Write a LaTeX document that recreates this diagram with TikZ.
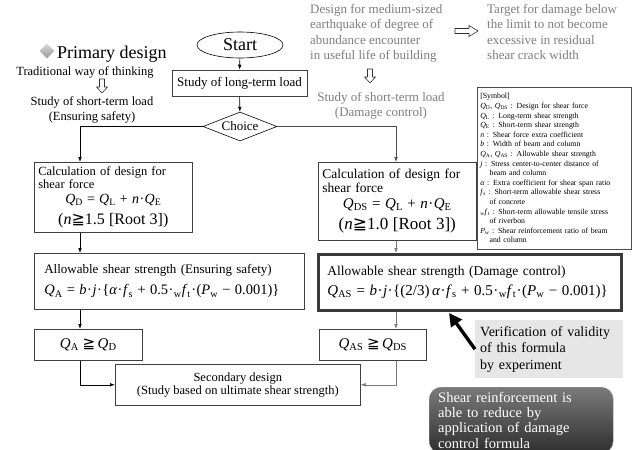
\documentclass[tikz,border=0pt]{standalone}
\usepackage{fontspec}
\setmainfont{Liberation Serif}
\newfontfamily\symfont{DejaVu Sans}
\usetikzlibrary{shapes.geometric, arrows.meta, positioning, calc, shadings}
\definecolor{notegray}{HTML}{7F7F7F}
\definecolor{linegray}{HTML}{777777}
\definecolor{verifygray}{HTML}{E6E6E6}
\definecolor{framedark}{HTML}{3A3A3A}

\newcommand{\qv}[2]{\textit{#1}\textsubscript{#2}}
\newcommand{\gq}{{\symfont\char"2267}}
\newcommand{\fs}[1]{\fontsize{#1}{#1}\selectfont}
\newcommand{\md}{\kern0.5pt·\kern0.5pt}

\begin{document}
\begin{tikzpicture}[x=1pt, y=-1pt,
  box/.style={draw=black!75, line width=0.6pt, inner sep=0pt},
  flow/.style={-{Latex[length=5pt,width=3.6pt]}, line width=0.6pt},
  hollow/.style={draw=black!80, line width=0.6pt, fill=white},
  note/.style={notegray, align=left, font=\fontsize{13}{15.5}\selectfont, inner sep=0pt},
  bigarrow/.style={line width=3.4pt, -{Triangle[length=13pt,width=13pt]}}]

  \clip (0,0) rectangle (633,450);
  \fill[white] (0,0) rectangle (633,450);

  % left heading
  \node[diamond, top color=black!15, bottom color=black!40, minimum size=15, inner sep=0pt] (mark) at (47,51) {};
  \node[anchor=base west, font=\fs{18}, inner sep=0pt] (primary) at (57,58) {Primary design};
  \node[anchor=base, font=\fs{12.5}, inner sep=0pt] (trad) at (85,75) {Traditional way of thinking};
  \coordinate (dnL) at (102,79);
  \draw[hollow] (dnL) ++(-2.5,0) -- ++(5,0) -- ++(0,8) -- ++(3,0) -- ++(-5.5,6)
    -- ++(-5.5,-6) -- ++(3,0) -- cycle;
  \node[anchor=north, font=\fontsize{12.5}{15}\selectfont, align=center, inner sep=0pt] (shortL) at (92,96)
    {Study of short-term load\\(Ensuring safety)};

  % right notes
  \node[note, anchor=north west] (medium) at (310,4)
    {Design for medium-sized\\earthquake of degree of\\abundance encounter\\in useful life of building};
  \coordinate (rtA) at (455,31);
  \draw[hollow] (rtA) ++(0,-2.5) -- ++(14,0) -- ++(0,-3) -- ++(9,5.5) -- ++(-9,5.5)
    -- ++(0,-3) -- ++(-14,0) -- cycle;
  \node[note, anchor=north west] (target) at (487,4)
    {Target for damage below\\the limit to not become\\excessive in residual\\shear crack width};
  \coordinate (dnR) at (370,69);
  \draw[hollow] (dnR) ++(-2.5,0) -- ++(5,0) -- ++(0,8) -- ++(3,0) -- ++(-5.5,6)
    -- ++(-5.5,-6) -- ++(3,0) -- cycle;
  \node[note, anchor=north, align=center] (shortR) at (381,92)
    {Study of short-term load\\(Damage control)};

  % symbol list
  \node[draw=black!70, line width=0.5pt, anchor=north west, minimum width=154, minimum height=162,
    text width=148, align=left, inner sep=3pt, font=\fontsize{7.8}{9.6}\selectfont] (symbols) at (477,87)
    {[Symbol]\\
     \qv{Q}{D}, \qv{Q}{DS}\ : Design for shear force\\
     \qv{Q}{L}\ : Long-term shear strength\\
     \qv{Q}{E}\ : Short-term shear strength\\
     \textit{n}\ : Shear force extra coefficient\\
     \textit{b}\ : Width of beam and column\\
     \qv{Q}{A}, \qv{Q}{AS}\ : Allowable shear strength\\
     \textit{j}\ : Stress center-to-center distance of\\
     \hspace*{1.2em}beam and column\\
     \textit{α}\ : Extra coefficient for shear span ratio\\
     \qv{f}{s}\ : Short-term allowable shear stress\\
     \hspace*{1.2em}of concrete\\
     \textsubscript{w}\qv{f}{t}\ : Short-term allowable tensile stress\\
     \hspace*{1.2em}of riverbon\\
     \qv{P}{w}\ : Shear reinforcement ratio of beam\\
     \hspace*{1.2em}and column};

  % main flow
  \node[draw, ellipse, line width=0.6pt, minimum width=86, minimum height=26, inner sep=0pt,
    font=\fs{18}] (start) at (240,45) {Start};
  \node[box, minimum width=135, minimum height=26, font=\fs{13}] (longterm) at (239.5,83)
    {Study of long-term load};
  \node[draw, diamond, line width=0.6pt, aspect=2.5, minimum width=74, minimum height=29,
    inner sep=0pt, font=\fs{13}] (choice) at (240,126.5) {Choice};

  \node[box, anchor=north west, minimum width=158, minimum height=70, text width=150,
    align=left, inner xsep=4pt, font=\fontsize{12.5}{12.5}\selectfont] (calcL) at (34,162)
    {Calculation of design for\\shear force\\[3pt]
     \makebox[\linewidth]{\fs{14}\qv{Q}{D} = \qv{Q}{L} + \textit{n}\md\qv{Q}{E}}\\[6pt]
     \makebox[\linewidth]{\fs{16}(\textit{n}\gq1.5 [Root 3])}};
  \node[box, anchor=north west, minimum width=270, minimum height=56, text width=250,
    align=left, inner xsep=10pt, font=\fontsize{13}{13}\selectfont] (allowL) at (34,253)
    {Allowable shear strength (Ensuring safety)\\[7pt]
     \mbox{\fs{14.5}\qv{Q}{A} = \textit{b}\md\textit{j}\md\{\textit{α}\md\qv{f}{s} + 0.5\md\textsubscript{w}\qv{f}{t}\md(\qv{P}{w} − 0.001)\}}};
  \node[box, anchor=north west, minimum width=108, minimum height=31, font=\fs{15}] (qa) at (34,329)
    {\qv{Q}{A} \gq\,\qv{Q}{D}};

  \node[box, anchor=north west, minimum width=158, minimum height=78, text width=150,
    align=left, inner xsep=4pt, font=\fontsize{13.5}{13.5}\selectfont] (calcR) at (318,162)
    {Calculation of design for\\shear force\\[3pt]
     \makebox[\linewidth]{\fs{15}\qv{Q}{DS} = \qv{Q}{L} + \textit{n}\md\qv{Q}{E}}\\[6pt]
     \makebox[\linewidth]{\fs{17}(\textit{n}\gq1.0 [Root 3])}};
  \node[draw=framedark, line width=2.6pt, anchor=north west, minimum width=303, minimum height=56,
    text width=285, align=left, inner xsep=9pt, font=\fontsize{13.5}{13.5}\selectfont] (allowR) at (317,253)
    {Allowable shear strength (Damage control)\\[6pt]
     \mbox{\fs{15}\qv{Q}{AS} = \textit{b}\md\textit{j}\md\{(2/3)\,\textit{α}\md\qv{f}{s} + 0.5\md\textsubscript{w}\qv{f}{t}\md(\qv{P}{w} − 0.001)\}}};
  \node[box, anchor=north west, minimum width=107, minimum height=31, font=\fs{15}] (qas) at (319,329)
    {\qv{Q}{AS} \gq\,\qv{Q}{DS}};

  \node[box, anchor=north west, minimum width=245, minimum height=41, align=center,
    font=\fontsize{12.5}{13.5}\selectfont] (second) at (115,364)
    {Secondary design\\(Study based on ultimate shear strength)};

  \coordinate (lcol) at (80,0);
  \coordinate (rcol) at (396,0);
  \draw[flow] (start) -- (longterm);
  \draw[flow] (longterm) -- (choice);
  \draw[flow] (choice.west) -| (calcL.north -| lcol);
  \draw[flow] (calcL.south -| lcol) -- (allowL.north -| lcol);
  \draw[flow] (allowL.south -| lcol) -- (qa.north -| lcol);
  \draw[flow] (qa.south -| lcol) |- (second.west);
  \draw[flow, black!70] (choice.east) -| (calcR.north -| rcol);
  \draw[flow, linegray] (calcR.south -| rcol) -- (allowR.north -| rcol);
  \draw[flow, linegray] (allowR.south -| rcol) -- (qas.north -| rcol);
  \draw[flow, linegray] (qas.south -| rcol) |- (second.east);

  % notes at the bottom right
  \node[fill=verifygray, anchor=north west, minimum width=147, minimum height=58, text width=138,
    align=left, inner xsep=5pt, font=\fontsize{14}{16.5}\selectfont] (verify) at (475,320)
    {Verification of validity\\of this formula\\by experiment};
  \coordinate (vtip) at (449,313);
  \draw[bigarrow] (verify.west) -- (vtip);
  \node[rounded corners=12pt, top color=black!52, bottom color=black!82, draw=black!40,
    anchor=north west, minimum width=183, minimum height=66, text width=166, align=left,
    inner xsep=9pt, inner ysep=0pt, text=white, font=\fontsize{14.5}{15.2}\selectfont] (reduce) at (429,387)
    {Shear reinforcement is\\able to reduce by\\application of damage\\control formula};
\end{tikzpicture}
\end{document}
